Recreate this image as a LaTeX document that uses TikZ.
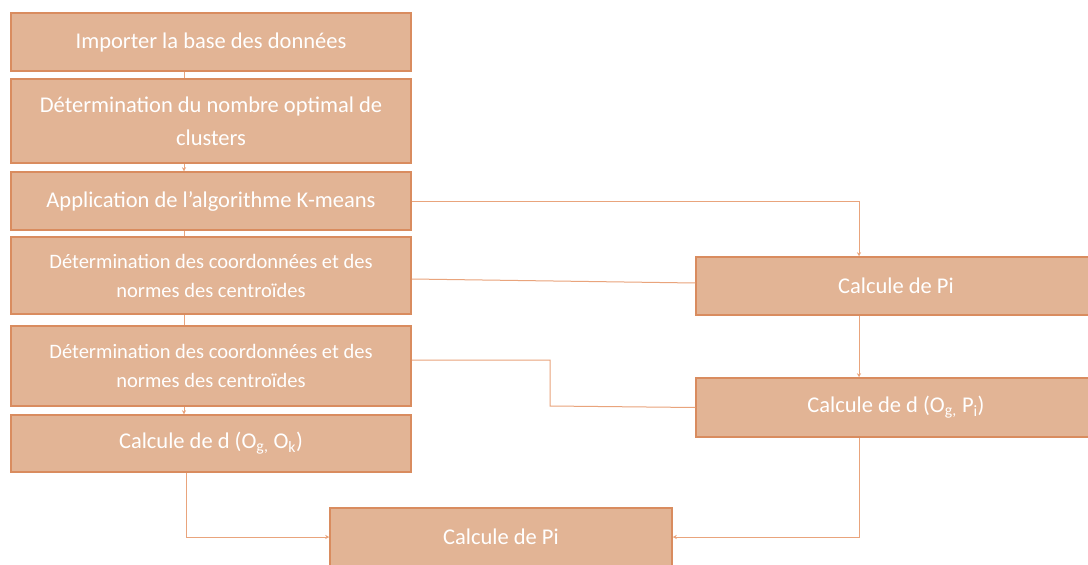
\documentclass[tikz,border=0pt]{standalone}
\usepackage{fontspec}
\setmainfont{Carlito}
\usetikzlibrary{arrows.meta}
\definecolor{boxfill}{HTML}{E2B495}
\definecolor{boxline}{HTML}{D98C5F}
\definecolor{linkline}{HTML}{E9A47C}

\begin{document}
\begin{tikzpicture}[x=1pt,y=-1pt,
  etape/.style={draw=boxline,line width=1.5pt,fill=boxfill,text=white,
    minimum width=400pt,align=center,inner sep=0pt,
    font=\fontsize{22.5}{33}\selectfont},
  petit/.style={font=\fontsize{20.5}{29}\selectfont},
  lien/.style={draw=linkline,line width=1pt},
  fleche/.style={lien,-{Stealth[length=4pt,width=4pt]}}]
\clip (0,0) rectangle (1088,565);
\fill[white] (0,0) rectangle (1088,565);
% colonne de gauche
\node[etape,minimum height=58pt] (import) at (211,42) {Importer la base des données};
\node[etape,minimum height=84pt] (nombre) at (211,121) {Détermination du nombre optimal de\\clusters};
\node[etape,minimum height=58pt] (kmeans) at (211,201) {Application de l'algorithme K-means};
\node[etape,petit,minimum height=77pt] (coord1) at (211,275.5) {Détermination des coordonnées et des\\normes des centroïdes};
\node[etape,petit,minimum height=80pt] (coord2) at (211,366) {Détermination des coordonnées et des\\normes des centroïdes};
\node[etape,minimum height=57pt] (dist1) at (211,443.5) {Calcule de d (O\textsubscript{g,} O\textsubscript{k})};
% colonne de droite
\node[etape,minimum height=58pt] (pi1) at (896,286) {Calcule de Pi};
\node[etape,minimum height=59pt] (dist2) at (896,407.5) {Calcule de d (O\textsubscript{g,} P\textsubscript{i})};
\node[etape,minimum width=342pt,minimum height=58pt] (pi2) at (501,537) {Calcule de Pi};
% liens
\draw[lien] (import.south -| 184,0) -- (nombre.north -| 184,0);
\draw[fleche] (nombre.south -| 184,0) -- (kmeans.north -| 184,0);
\draw[lien] (kmeans.south -| 184,0) -- (coord1.north -| 184,0);
\draw[lien] (coord1.south -| 184,0) -- (coord2.north -| 184,0);
\draw[fleche] (coord2.south -| 184,0) -- (dist1.north -| 184,0);
\draw[fleche] (kmeans.east) -| (pi1.north -| 859,0);
\draw[lien] ([yshift=-3.5pt]coord1.east) -- ([yshift=3pt]pi1.west);
\draw[lien] ([yshift=6pt]coord2.east) -| (550,406) -- (dist2.west);
\draw[fleche] (pi1.south -| 859,0) -- (dist2.north -| 859,0);
\draw[fleche] (dist2.south -| 859,0) |- (pi2.east);
\draw[fleche] (dist1.south -| 186,0) |- (pi2.west);
\end{tikzpicture}
\end{document}
